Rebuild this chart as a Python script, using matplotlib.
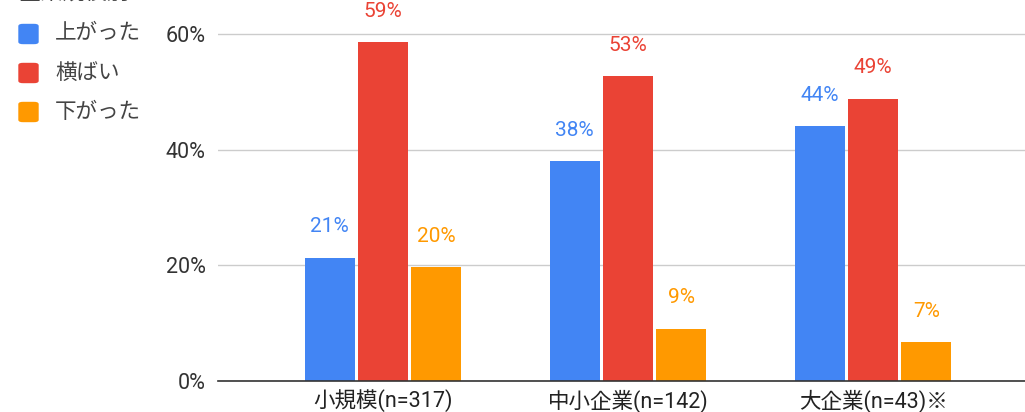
import numpy as np
import matplotlib.pyplot as plt
from matplotlib.patches import FancyBboxPatch

plt.rcParams['font.family'] = ['Roboto', 'Noto Sans CJK JP', 'DejaVu Sans']

categories = ["小規模(n=317)", "中小企業(n=142)", "大企業(n=43)※"]
series_names = ["上がった", "横ばい", "下がった"]
up = [21.3, 38.0, 44.1]
flat = [58.6, 52.7, 48.8]
down = [19.7, 9.0, 6.7]
yticks = [0, 20, 40, 60]
colors = ["#4285F4", "#EA4335", "#FF9900"]

W, H = 1025, 412
fig = plt.figure(figsize=(W / 100, H / 100), dpi=100)
ax = fig.add_axes([218 / W, (H - 381) / H, 1 - 218 / W, 381 / H])

x = np.arange(len(categories))
bw = 0.204
step = 0.218
for i, (vals, c) in enumerate(zip([up, flat, down], colors)):
    pos = x + (i - 1) * step
    ax.bar(pos, vals, width=bw, color=c, zorder=3)
    for p, v in zip(pos, vals):
        ax.annotate(f"{round(v)}%", (p, v), xytext=(0, 15.5), textcoords="offset points",
                    ha="center", va="bottom", color=c, fontsize=15)

ax.set_xlim(-0.673, 2.62)
ax.set_ylim(0, 65.9)
ax.set_yticks(yticks)
ax.set_yticklabels([f"{t}%" for t in yticks], fontsize=15.5, color="#333333")
ax.set_xticks(x)
ax.set_xticklabels(categories, fontsize=15.5, color="#222222")
ax.tick_params(axis="y", length=0, pad=9)
ax.tick_params(axis="x", length=0, pad=6)
ax.grid(axis="y", color="#cccccc", lw=1, zorder=0)
for s in ["top", "right", "left"]:
    ax.spines[s].set_visible(False)
ax.spines["bottom"].set_color("#333333")
ax.spines["bottom"].set_linewidth(1.2)
ax.spines["bottom"].set_zorder(4)

# legend drawn by hand
for i, (name, c) in enumerate(zip(series_names, colors)):
    yc = 34 + i * 39
    fig.patches.append(FancyBboxPatch((19 / W, (H - yc - 9.5) / H), 19 / W, 19 / H,
                                      boxstyle="round,pad=0,rounding_size=0.004",
                                      transform=fig.transFigure, color=c))
    fig.text(55 / W, (H - yc) / H, name, fontsize=15.5, color="#444444", va="center")

# title, cut off at the top like in the source image
fig.text(18 / W, 1 + 1 / H, "企業規模別", fontsize=16, color="#444444", va="baseline")

fig.savefig("out.png", dpi=100)
